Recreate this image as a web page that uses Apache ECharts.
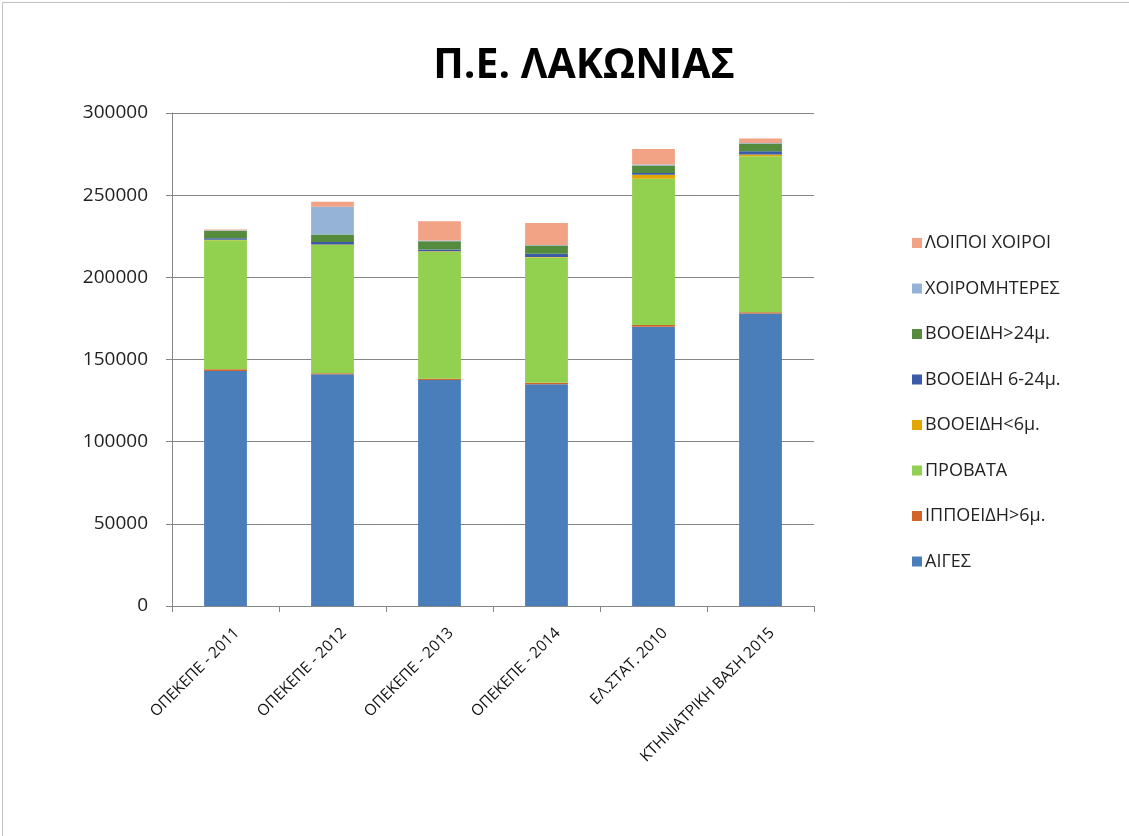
<!DOCTYPE html>
<html>
<head>
<meta charset="utf-8">
<script src="https://cdn.jsdelivr.net/npm/echarts@6/dist/echarts.min.js"></script>
<style>
html,body{margin:0;padding:0;background:#fff;}
#chart{width:1129px;height:836px;}
</style>
</head>
<body>
<div id="chart"></div>
<script>
// ---- data ----
const categories = ['ΟΠΕΚΕΠΕ - 2011','ΟΠΕΚΕΠΕ - 2012','ΟΠΕΚΕΠΕ - 2013','ΟΠΕΚΕΠΕ - 2014','ΕΛ.ΣΤΑΤ. 2010','ΚΤΗΝΙΑΤΡΙΚΗ ΒΑΣΗ 2015'];
const aiges        = [143000, 141000, 137500, 135000, 170000, 178000];
const ippoeidh     = [1000, 700, 800, 800, 1000, 700];
const provata      = [78500, 78000, 77300, 76200, 89000, 95000];
const vooeidhLt6   = [300, 300, 300, 300, 2500, 1000];
const vooeidh6_24  = [1000, 1500, 1000, 2000, 1000, 2000];
const vooeidhGt24  = [4500, 4500, 5000, 5000, 4600, 4800];
const xoiromhteres = [300, 17000, 500, 300, 500, 300];
const loipoiXoiroi = [500, 3000, 11800, 13400, 9500, 2700];
const yTicks = [0, 50000, 100000, 150000, 200000, 250000, 300000];

const seriesDefs = [
  ['ΑΙΓΕΣ', aiges, '#4A7EBB'],
  ['ΙΠΠΟΕΙΔΗ>6μ.', ippoeidh, '#D2642A'],
  ['ΠΡΟΒΑΤΑ', provata, '#92D050'],
  ['ΒΟΟΕΙΔΗ<6μ.', vooeidhLt6, '#E3A600'],
  ['ΒΟΟΕΙΔΗ 6-24μ.', vooeidh6_24, '#3A5BAA'],
  ['ΒΟΟΕΙΔΗ>24μ.', vooeidhGt24, '#558B3C'],
  ['ΧΟΙΡΟΜΗΤΕΡΕΣ', xoiromhteres, '#95B3D7'],
  ['ΛΟΙΠΟΙ ΧΟΙΡΟΙ', loipoiXoiroi, '#F2A285']
];

const FONT = 'Open Sans, Lato, sans-serif';
const chart = echarts.init(document.getElementById('chart'));
chart.setOption({
  animation: false,
  backgroundColor: '#fff',
  graphic: [{
    type: 'rect', left: 0, top: 0, silent: true,
    shape: {x: 0.5, y: 0.5, width: 1127, height: 834},
    style: {fill: 'none', stroke: '#BFBFBF', lineWidth: 1}
  }],
  title: {
    text: 'Π.Ε. ΛΑΚΩΝΙΑΣ', left: 579, top: 41, textAlign: 'center',
    textStyle: {fontFamily: FONT, fontWeight: 'bold', fontSize: 41, color: '#000'}
  },
  legend: {
    orient: 'vertical', left: 907, top: 229,
    data: seriesDefs.map(s => s[0]).reverse(),
    itemWidth: 10, itemHeight: 10, itemGap: 27.5,
    icon: 'rect',
    textStyle: {fontFamily: FONT, fontSize: 18, color: '#222', padding: [0, 0, 0, -2]}
  },
  grid: {left: 172, right: 315, top: 113, bottom: 230},
  xAxis: {
    type: 'category', data: categories,
    axisLine: {lineStyle: {color: '#868686'}},
    axisTick: {show: true, length: 6, lineStyle: {color: '#868686'}},
    axisLabel: {rotate: 45, fontFamily: FONT, fontSize: 15.5, color: '#111', margin: 36, interval: 0,
                padding: [0, -16, 0, 0]}
  },
  yAxis: {
    type: 'value', min: yTicks[0], max: yTicks[yTicks.length - 1], interval: 50000,
    axisLine: {show: true, lineStyle: {color: '#868686'}},
    axisTick: {show: true, length: 6, lineStyle: {color: '#868686'}},
    splitLine: {lineStyle: {color: '#868686'}},
    axisLabel: {fontFamily: FONT, fontSize: 19, color: '#222', margin: 24, formatter: v => String(v)}
  },
  series: seriesDefs.map(([name, data, color]) => ({
    name, type: 'bar', stack: 'total', data, barWidth: '40%',
    itemStyle: {color}
  }))
});
</script>
</body>
</html>
